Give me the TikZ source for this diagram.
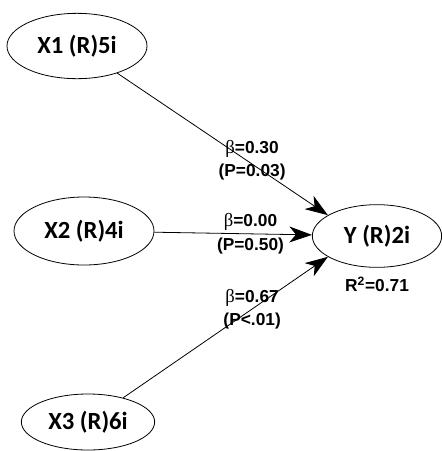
\documentclass[tikz,border=0pt]{standalone}
\usepackage{fontspec}
\setmainfont{Liberation Sans}
\newfontfamily\calibrifont{Carlito}
\newfontfamily\symbfont{Liberation Serif}
\usetikzlibrary{shapes.geometric,arrows.meta,positioning}
\newcommand{\bet}{{\symbfont\mdseries\fontsize{14}{16}\selectfont β}}
\tikzset{
  latent/.style={ellipse,draw=black,line width=0.6pt,inner sep=0pt,
    minimum width=#1,font=\calibrifont\bfseries\fontsize{18.5}{20}\selectfont},
  latent/.default={105pt},
  effect/.style={-{Stealth[length=17pt,width=12pt,inset=5pt]},line width=0.6pt,black},
  coef/.style={font=\bfseries\fontsize{13}{17.5}\selectfont,align=center,inner sep=0pt},
}
\begin{document}
\begin{tikzpicture}[x=0.75pt,y=-0.75pt]
  \useasboundingbox (0,0) rectangle (442,451);
  \node[latent,minimum height=49pt] (x1) at (77,46) {X1 (R)5i};
  \node[latent,minimum height=51pt] (x2) at (84,231) {X2 (R)4i};
  \node[latent=100pt,minimum height=42pt] (x3) at (88,422) {X3 (R)6i};
  \node[latent=97pt,minimum height=47pt] (y) at (377,236) {Y (R)2i};
  \node[coef,below=7pt of y] (r2) {R\textsuperscript{2}=0.71};
  \draw[effect] (x1) -- node[coef,pos=0.64,yshift=3pt] (c1) {\bet=0.30\\(P=0.03)} (y.157);
  \draw[effect] (x2) -- node[coef,pos=0.61] (c2) {\bet=0.00\\(P=0.50)} (y);
  \draw[effect] (x3) -- node[coef,pos=0.63] (c3) {\bet=0.67\\(P<.01)} (y.203);
\end{tikzpicture}
\end{document}
